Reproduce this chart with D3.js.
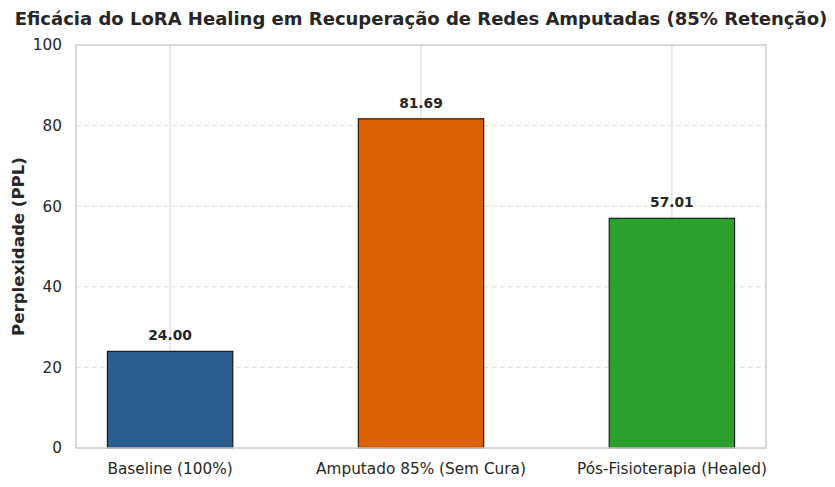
<!DOCTYPE html>
<html>
<head>
<meta charset="utf-8">
<script src="https://cdn.jsdelivr.net/npm/d3@7"></script>
<style>
  body { margin: 0; background: #fff; }
  text { font-family: "DejaVu Sans", sans-serif; fill: #262626; }
</style>
</head>
<body>
<div id="chart"></div>
<script>
// data
var categories = ["Baseline (100%)", "Amputado 85% (Sem Cura)", "Pós-Fisioterapia (Healed)"];
var perplexity = [24.00, 81.69, 57.01];
var barColors = ["#2b5d8e", "#dc6000", "#2ca02c"];
var yTicks = [0, 20, 40, 60, 80, 100];

var W = 835, H = 487;
var margin = {top: 45, right: 69, bottom: 39, left: 76},
    width = W - margin.left - margin.right,
    height = H - margin.top - margin.bottom;

var svg = d3.select("#chart").append("svg")
    .attr("width", W)
    .attr("height", H);

var g = svg.append("g")
    .attr("transform", "translate(" + margin.left + "," + margin.top + ")");

var x = d3.scaleLinear().domain([-0.375, 2.375]).range([0, width]);
var y = d3.scaleLinear().domain([0, 100]).range([height, 0]);
var barW = x(0.5) - x(0);

// horizontal dashed grid
g.selectAll(".hgrid")
  .data(yTicks.filter(function(d){ return d > 0 && d < 100; }))
  .enter().append("line")
  .attr("class", "hgrid")
  .attr("x1", 0).attr("x2", width)
  .attr("y1", function(d){ return y(d); })
  .attr("y2", function(d){ return y(d); })
  .attr("stroke", "#e0e0e0")
  .attr("stroke-width", 1)
  .attr("stroke-dasharray", "5,3");

// vertical grid at categories
g.selectAll(".vgrid")
  .data(categories)
  .enter().append("line")
  .attr("class", "vgrid")
  .attr("x1", function(d, i){ return x(i); })
  .attr("x2", function(d, i){ return x(i); })
  .attr("y1", 0).attr("y2", height)
  .attr("stroke", "#d5d5d5")
  .attr("stroke-width", 1);

// bars
g.selectAll(".bar")
  .data(perplexity)
  .enter().append("rect")
  .attr("class", "bar")
  .attr("x", function(d, i){ return x(i) - barW / 2; })
  .attr("y", function(d){ return y(d); })
  .attr("width", barW)
  .attr("height", function(d){ return height - y(d); })
  .attr("fill", function(d, i){ return barColors[i]; })
  .attr("stroke", "#000")
  .attr("stroke-width", 1);

// value labels
g.selectAll(".val")
  .data(perplexity)
  .enter().append("text")
  .attr("class", "val")
  .attr("x", function(d, i){ return x(i); })
  .attr("y", function(d){ return y(d) - 11; })
  .attr("text-anchor", "middle")
  .style("font-size", "13.8px")
  .style("font-weight", "bold")
  .text(function(d){ return d.toFixed(2); });

// spines
g.append("rect")
  .attr("x", 0).attr("y", 0)
  .attr("width", width).attr("height", height)
  .attr("fill", "none")
  .attr("stroke", "#cccccc")
  .attr("stroke-width", 1.5);

// y axis labels
g.selectAll(".ytick")
  .data(yTicks)
  .enter().append("text")
  .attr("class", "ytick")
  .attr("x", -14)
  .attr("y", function(d){ return y(d); })
  .attr("dy", "0.35em")
  .attr("text-anchor", "end")
  .style("font-size", "15.3px")
  .text(function(d){ return d; });

// x axis labels
g.selectAll(".xtick")
  .data(categories)
  .enter().append("text")
  .attr("class", "xtick")
  .attr("x", function(d, i){ return x(i); })
  .attr("y", height + 26)
  .attr("text-anchor", "middle")
  .style("font-size", "15.3px")
  .text(function(d){ return d; });

// y axis title
svg.append("text")
  .attr("transform", "translate(24," + (margin.top + height / 2) + ") rotate(-90)")
  .attr("text-anchor", "middle")
  .style("font-size", "16.6px")
  .style("font-weight", "bold")
  .text("Perplexidade (PPL)");

// title
svg.append("text")
  .attr("x", margin.left + width / 2)
  .attr("y", 25)
  .attr("text-anchor", "middle")
  .style("font-size", "18px")
  .style("font-weight", "bold")
  .text("Eficácia do LoRA Healing em Recuperação de Redes Amputadas (85% Retenção)");
</script>
</body>
</html>
